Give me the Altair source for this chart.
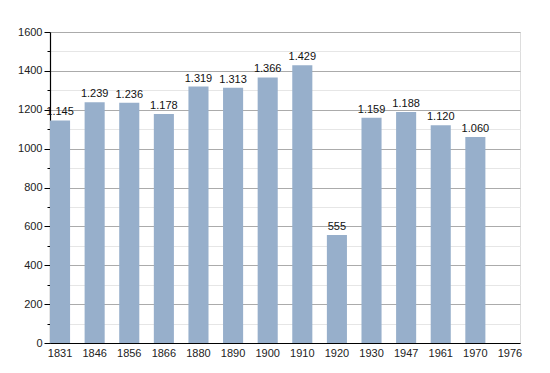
import altair as alt
import pandas as pd

years = ["1831", "1846", "1856", "1866", "1880", "1890", "1900", "1910", "1920", "1930", "1947", "1961", "1970", "1976"]
bar_years = ["1831", "1846", "1856", "1866", "1880", "1890", "1900", "1910", "1920", "1930", "1947", "1961", "1970"]
population = [1145, 1239, 1236, 1178, 1319, 1313, 1366, 1429, 555, 1159, 1188, 1120, 1060]
y_ticks = list(range(0, 1601, 100))

df = pd.DataFrame({"year": bar_years, "pop": population})

font = "Liberation Sans"

x = alt.X("year:N", sort=years,
          scale=alt.Scale(domain=years, paddingInner=0.42, paddingOuter=0),
          axis=alt.Axis(title=None, labelAngle=0, ticks=False, domain=True,
                        domainColor="black", domainWidth=1.2, labelFont=font,
                        labelFontSize=11, labelColor="#222", labelPadding=4))
y = alt.Y("pop:Q", scale=alt.Scale(domain=[0, 1600], nice=False),
          axis=alt.Axis(title=None, values=y_ticks, labelOverlap=False,
                        labelExpr="datum.value % 200 == 0 ? datum.label : ''",
                        format="d",
                        gridColor={"condition": {"test": "datum.value % 200 == 0", "value": "#ababab"}, "value": "#e6e6e6"},
                        tickSize={"condition": {"test": "datum.value % 200 == 0", "value": 6}, "value": 3},
                        tickColor="black", domainColor="black", domainWidth=1.2,
                        labelFont=font, labelFontSize=11, labelColor="#222", labelPadding=2))

base = alt.Chart(df).encode(x=x, y=y)
bars = base.mark_bar(color="#97afcb")
labels = base.mark_text(baseline="bottom", dy=-3, font=font, fontSize=11, color="#111").encode(
    text=alt.Text("lab:N")).transform_calculate(lab="replace(format(datum.pop, ','), ',', '.')")

chart = alt.layer(bars, labels).properties(
    width=470, height=311,
    autosize=alt.AutoSizeParams(type="none"),
    padding={"left": 42, "top": 24, "right": 20, "bottom": 30},
).configure_view(stroke=None).configure(background="white")

chart.save("out.html", embed_options={"renderer": "svg", "actions": False})
